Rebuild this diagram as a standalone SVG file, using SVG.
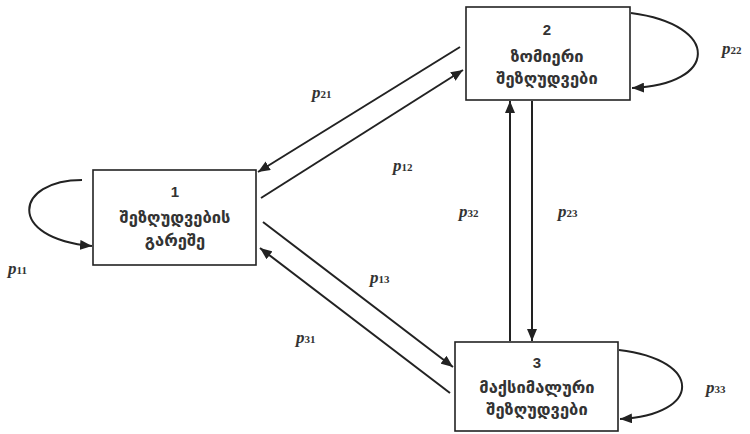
<svg xmlns="http://www.w3.org/2000/svg" width="750" height="434" viewBox="0 0 750 434">
<style>
.box{fill:#fff;stroke:#222;stroke-width:1.6}
.t{font-family:"DejaVu Sans",sans-serif;font-size:16.5px;font-weight:bold;fill:#333;text-anchor:middle}
.n{font-family:"Liberation Sans",sans-serif;font-size:15px;font-weight:bold;fill:#333;text-anchor:middle}
.e{fill:none;stroke:#222;stroke-width:2}
.p{font-family:"Liberation Serif",serif;font-style:italic;font-weight:bold;font-size:17px;fill:#333}
.s{font-style:normal;font-size:11px}
</style>
<defs>
<marker id="ah" viewBox="0 0 12 10" refX="12" refY="5" markerWidth="12" markerHeight="10" markerUnits="userSpaceOnUse" orient="auto">
<path d="M0,0 L12,5 L0,10 Z" fill="#222"/>
</marker>
</defs>
<rect width="750" height="434" fill="#fff"/>
<g id="connectors">
<path class="e" d="M82,180 C15,180 5,238 92,246" marker-end="url(#ah)"/>
<path class="e" d="M631,13 C722,25 718,85 632,88" marker-end="url(#ah)"/>
<path class="e" d="M619,350 C704,360 702,415 620,419" marker-end="url(#ah)"/>
<line class="e" x1="460" y1="47" x2="258" y2="172" marker-end="url(#ah)"/>
<line class="e" x1="261" y1="198" x2="463" y2="70" marker-end="url(#ah)"/>
<line class="e" x1="263" y1="222" x2="453" y2="367" marker-end="url(#ah)"/>
<line class="e" x1="450" y1="393" x2="260" y2="248" marker-end="url(#ah)"/>
<line class="e" x1="510" y1="341" x2="510" y2="101" marker-end="url(#ah)"/>
<line class="e" x1="532" y1="101" x2="532" y2="341" marker-end="url(#ah)"/>
</g>
<g id="node1">
<rect class="box" x="93" y="170" width="163" height="95"/>
<text class="n" x="175" y="197">1</text>
<text class="t" x="175" y="223">შეზღუდვების</text>
<text class="t" x="175" y="246">გარეშე</text>
</g>
<g id="node2">
<rect class="box" x="466" y="7" width="164" height="93"/>
<text class="n" x="547" y="35">2</text>
<text class="t" x="547" y="62">ზომიერი</text>
<text class="t" x="547" y="84">შეზღუდვები</text>
</g>
<g id="node3">
<rect class="box" x="455" y="342" width="163" height="89"/>
<text class="n" x="537" y="368">3</text>
<text class="t" x="537" y="393">მაქსიმალური</text>
<text class="t" x="537" y="415">შეზღუდვები</text>
</g>
<g id="labels">
<text class="p" x="8" y="274">p<tspan class="s">11</tspan></text>
<text class="p" x="722" y="54">p<tspan class="s">22</tspan></text>
<text class="p" x="706" y="393">p<tspan class="s">33</tspan></text>
<text class="p" x="312" y="98">p<tspan class="s">21</tspan></text>
<text class="p" x="393" y="171">p<tspan class="s">12</tspan></text>
<text class="p" x="370" y="283">p<tspan class="s">13</tspan></text>
<text class="p" x="296" y="343">p<tspan class="s">31</tspan></text>
<text class="p" x="459" y="217">p<tspan class="s">32</tspan></text>
<text class="p" x="558" y="217">p<tspan class="s">23</tspan></text>
</g>
</svg>
